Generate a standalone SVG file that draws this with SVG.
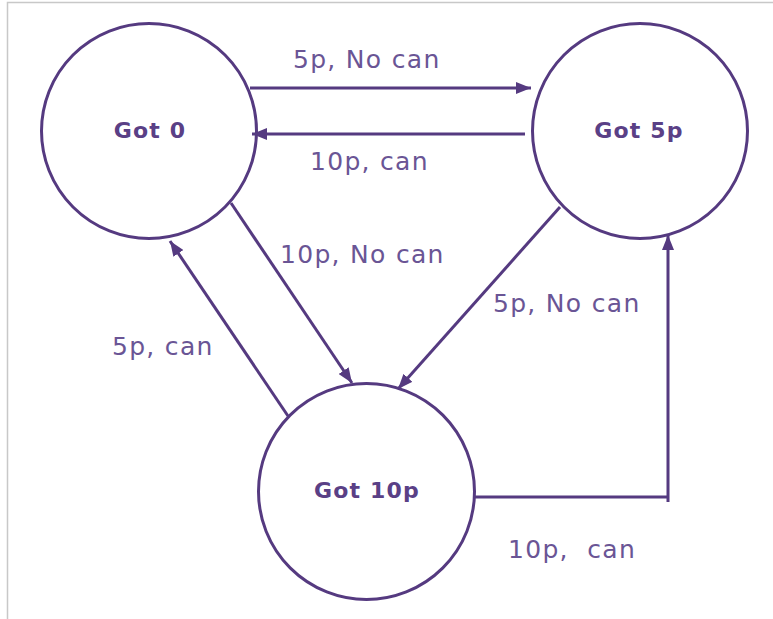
<svg xmlns="http://www.w3.org/2000/svg" width="773" height="619" viewBox="0 0 773 619">
  <style>
    .frame { stroke: #c8c8c8; stroke-width: 1.5; fill: none; }
    .state { fill: #ffffff; stroke: #553a80; stroke-width: 3; }
    .state-label { font-family: "DejaVu Sans", Verdana, sans-serif; font-weight: bold; font-size: 22px; letter-spacing: 1.2px; fill: #5a4086; text-anchor: middle; }
    .edge { fill: none; stroke: #553a80; stroke-width: 3; marker-end: url(#head); }
    .edge-label { font-family: "DejaVu Sans", Verdana, sans-serif; font-size: 25px; letter-spacing: 1.3px; fill: #6a5595; white-space: pre; }
  </style>
  <defs>
    <marker id="head" markerUnits="userSpaceOnUse" markerWidth="16" markerHeight="12" refX="15" refY="6" orient="auto">
      <path d="M0,0 L15,6 L0,12 z" fill="#553a80"/>
    </marker>
  </defs>

  <rect width="773" height="619" fill="#ffffff"/>
  <path class="frame" d="M7.5,619 V2.5 H773"/>

  <g id="got0">
    <circle class="state" cx="149" cy="131" r="107.5"/>
    <text class="state-label" x="150" y="137.5">Got 0</text>
  </g>

  <g id="got5p">
    <circle class="state" cx="640" cy="131" r="107.5"/>
    <text class="state-label" x="639" y="137.5">Got 5p</text>
  </g>

  <g id="got10p">
    <circle class="state" cx="366.5" cy="491.5" r="108"/>
    <text class="state-label" x="367" y="497.5">Got 10p</text>
  </g>

  <g id="connectors">
    <path class="edge" d="M250,88 H531"/>
    <path class="edge" d="M525,134 H252"/>
    <path class="edge" d="M231,203 L352,383"/>
    <path class="edge" d="M288,416 L170,241"/>
    <path class="edge" d="M560,207 L398,389"/>
    <path class="edge" d="M475,497 H668 M668,502 V235"/>
  </g>

  <g id="labels">
    <text class="edge-label" x="293" y="68">5p, No can</text>
    <text class="edge-label" x="310" y="170">10p, can</text>
    <text class="edge-label" x="280" y="263">10p, No can</text>
    <text class="edge-label" x="112" y="355">5p, can</text>
    <text class="edge-label" x="493" y="312">5p, No can</text>
    <text class="edge-label" x="508" y="558">10p,  can</text>
  </g>
</svg>
